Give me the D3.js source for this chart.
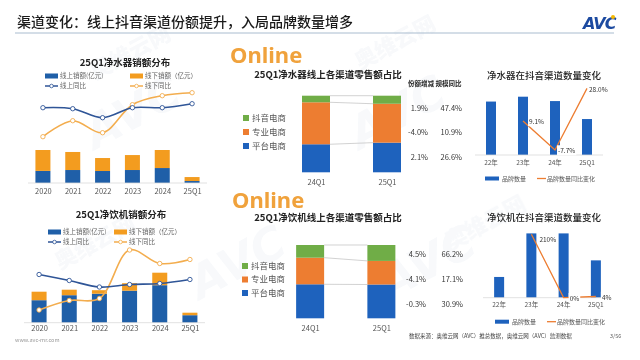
<!DOCTYPE html>
<html><head><meta charset="utf-8">
<script src="https://cdn.jsdelivr.net/npm/d3@7"></script>
<style>
html,body{margin:0;padding:0;background:#fff;}
svg{display:block;font-family:"Noto Sans CJK SC","Noto Sans",sans-serif;}
</style></head><body>
<svg id="c" width="640" height="360"></svg>
<script>
// ---------------- DATA ----------------
const pageTitle = "渠道变化：线上抖音渠道份额提升，入局品牌数量增多";
const years = ["2020","2021","2022","2023","2024","25Q1"];

// 净水器销额 (亿元, estimated) and YoY (%)
const purifierOnline  = [110, 118, 109, 118, 136, 18];
const purifierOffline = [190, 164, 118, 136, 164, 36];
const purifierOnlineYoY  = [10, 9, 0, 10, 10, 14];
const purifierOfflineYoY = [-19, -3, -15, 13, 22, 25];

// 净饮机销额 (estimated) and YoY (%)
const dispenserOnline  = [45, 55, 58, 64, 75, 15];
const dispenserOffline = [17, 11, 7, 15, 25, 5];
const dispenserOnlineYoY  = [51, 39, 26, 31, 33, 41];
const dispenserOfflineYoY = [-20, -1, 3, 100, 73, 81];

// channel shares (%), order: 平台电商, 专业电商, 抖音电商
const channels = ["平台电商","专业电商","抖音电商"];
const periods = ["24Q1","25Q1"];
const purifierShare24 = [36.6, 54.8, 8.6];
const purifierShare25 = [38.7, 50.8, 10.5];
const purifierShareChg = ["2.1%","-4.0%","1.9%"];
const purifierYoY      = ["26.6%","10.9%","47.4%"];
const dispenserShare24 = [46.4, 36.3, 17.3];
const dispenserShare25 = [46.1, 32.2, 21.7];
const dispenserShareChg = ["-0.3%","-4.1%","4.5%"];
const dispenserYoY      = ["30.9%","17.1%","66.2%"];

// brand counts on 抖音 (estimated) and YoY change (%)
const brandYears = ["22年","23年","24年","25Q1"];
const purifierBrands = [220, 240, 222, 148];
const purifierBrandYoY = [null, 9.1, -7.7, 28.0];
const purifierBrandYoYLabels = ["", "9.1%", "-7.7%", "28.0%"];
const dispenserBrands = [10, 31, 31, 18];
const dispenserBrandYoY = [null, 210, 0, 4];
const dispenserBrandYoYLabels = ["", "210%", "0%", "4%"];

// ---------------- STYLE ----------------
const C = {
  blueL:"#1f5fa8", orangeL:"#f39c1f", lineBlue:"#2f5597", lineOrange:"#f3ad4e",
  blue:"#1e62bd", orange:"#ed7d31", green:"#70ad47", grey:"#555", axis:"#d9d9d9"
};
const svg = d3.select("#c");

// watermarks (faint)
const wm = svg.append("g").attr("fill","#1f4e8c").attr("opacity",0.035).attr("font-weight",900);
[[95,80,"奥维云网"],[360,70,"奥维云网"],[450,250,"奥维云网"],[60,270,"奥维云网"]].forEach(d=>{
  wm.append("text").attr("transform",`translate(${d[0]},${d[1]}) rotate(-28)`).attr("font-size",22).text(d[2]);
});
[[95,150],[360,150],[200,300],[390,300]].forEach(d=>{
  wm.append("text").attr("transform",`translate(${d[0]},${d[1]}) rotate(-28)`).attr("font-size",46)
    .attr("font-style","italic").attr("font-family","DejaVu Sans").text("AVC");
});

// header
svg.append("text").attr("x",17).attr("y",27).attr("font-size",14).attr("fill","#1a1a1a")
  .attr("font-weight",500).text(pageTitle);
svg.append("line").attr("x1",15).attr("x2",614).attr("y1",33).attr("y2",33)
  .attr("stroke","#a9bccf").attr("stroke-width",1);
svg.append("text").attr("x",583).attr("y",29).attr("font-size",16).attr("font-weight",900)
  .attr("font-style","italic").attr("fill","#1c4aa0").attr("font-family","DejaVu Sans")
  .attr("letter-spacing",-1).text("AVC");
svg.append("circle").attr("cx",613).attr("cy",17).attr("r",2).attr("fill","#f5b800");

// ---------------- LEFT: sales distribution ----------------
function salesChart(o){
  const g = svg.append("g");
  g.append("text").attr("x",o.titleX).attr("y",o.titleY).attr("text-anchor","middle")
    .attr("font-size",9.5).attr("font-weight",700).attr("fill","#222").text(o.title);
  // legend
  const lg = g.append("g").attr("font-size",6.5).attr("fill","#666");
  lg.append("rect").attr("x",o.lx1).attr("y",o.ly-2.5).attr("width",13).attr("height",5).attr("fill",C.blueL);
  lg.append("text").attr("x",o.lx1+15).attr("y",o.ly).attr("dy","0.35em").text("线上销额(亿元)");
  lg.append("rect").attr("x",o.lx2).attr("y",o.ly-2.5).attr("width",13).attr("height",5).attr("fill",C.orangeL);
  lg.append("text").attr("x",o.lx2+15).attr("y",o.ly).attr("dy","0.35em").text("线下销额（亿元）");
  [[o.lx1,C.lineBlue,"线上同比"],[o.lx2,C.lineOrange,"线下同比"]].forEach(([x,c,t])=>{
    lg.append("line").attr("x1",x).attr("x2",x+13).attr("y1",o.ly+10).attr("y2",o.ly+10).attr("stroke",c).attr("stroke-width",1.5);
    lg.append("circle").attr("cx",x+6.5).attr("cy",o.ly+10).attr("r",1.8).attr("fill","#fff").attr("stroke",c).attr("stroke-width",0.8);
    lg.append("text").attr("x",x+15).attr("y",o.ly+10).attr("dy","0.35em").text(t);
  });
  const x = d3.scalePoint().domain(years).range(o.xRange).padding(0.5);
  const yB = d3.scaleLinear().domain(o.barDomain).range(o.barRange);
  const yL = d3.scaleLinear().domain(o.lineDomain).range(o.lineRange);
  const bw = 15;
  years.forEach((yr,i)=>{
    const on = o.online[i], off = o.offline[i];
    g.append("rect").attr("x",x(yr)-bw/2).attr("width",bw).attr("y",yB(on)).attr("height",yB(0)-yB(on)).attr("fill",C.blueL);
    g.append("rect").attr("x",x(yr)-bw/2).attr("width",bw).attr("y",yB(on+off)).attr("height",yB(on)-yB(on+off)).attr("fill",C.orangeL);
  });
  g.append("line").attr("x1",o.xRange[0]).attr("x2",o.xRange[1]).attr("y1",yB(0)).attr("y2",yB(0))
    .attr("stroke",C.axis).attr("stroke-width",0.8);
  const ax = d3.axisBottom(x).tickSize(0).tickPadding(o.tickPad);
  const axg = g.append("g").attr("transform",`translate(0,${yB(0)})`).call(ax);
  axg.select(".domain").remove();
  axg.selectAll("text").attr("font-size",7.5).attr("fill",C.grey).attr("font-family",'"Noto Sans CJK SC",sans-serif');
  const line = d3.line().x((d,i)=>x(years[i])).y(d=>yL(d)).curve(d3.curveCatmullRom.alpha(0.5));
  [[o.offYoY,C.lineOrange],[o.onYoY,C.lineBlue]].forEach(([arr,c])=>{
    g.append("path").attr("d",line(arr)).attr("fill","none").attr("stroke",c).attr("stroke-width",1.6);
    g.selectAll(null).data(arr).enter().append("circle")
      .attr("cx",(d,i)=>x(years[i])).attr("cy",d=>yL(d)).attr("r",2.2)
      .attr("fill","#fff").attr("stroke",c).attr("stroke-width",0.9);
  });
}
salesChart({title:"25Q1净水器销额分布", titleX:125, titleY:66, ly:76, lx1:45, lx2:130, tickPad:6,
  xRange:[28,207], barDomain:[0,300], barRange:[183,150], lineDomain:[-20,30], lineRange:[137.7,87.7],
  online:purifierOnline, offline:purifierOffline, onYoY:purifierOnlineYoY, offYoY:purifierOfflineYoY});
salesChart({title:"25Q1净饮机销额分布", titleX:121, titleY:218, ly:232, lx1:48, lx2:114, tickPad:3,
  xRange:[24,205], barDomain:[0,100], barRange:[322.7,272.7], lineDomain:[-20,100], lineRange:[310,250],
  online:dispenserOnline, offline:dispenserOffline, onYoY:dispenserOnlineYoY, offYoY:dispenserOfflineYoY});

// ---------------- MIDDLE: channel shares ----------------
function shareChart(o){
  const g = svg.append("g");
  g.append("text").attr("x",o.onlineX).attr("y",o.onlineY).attr("font-size",22).attr("font-weight",700)
    .attr("fill","#f0a23c").attr("font-family",'"Noto Sans","Open Sans",sans-serif').text("Online");
  g.append("text").attr("x",328).attr("y",o.titleY).attr("text-anchor","middle").attr("font-size",9.5)
    .attr("font-weight",700).attr("fill","#222").text(o.title);
  if(o.header){
    g.append("text").attr("x",408).attr("y",o.titleY+8).attr("font-size",6.5).attr("font-weight",700)
      .attr("fill","#222").text(o.header);
  }
  const x = d3.scalePoint().domain(periods).range(o.xRange).padding(0.5);
  const y = d3.scaleLinear().domain([0,100]).range(o.yRange);
  const bw = 28;
  const colors = [C.blue, C.orange, C.green];
  const stacks = [o.s24, o.s25].map(arr=>{ let c=0; return arr.map(v=>{ const s=[c,c+v]; c+=v; return s; }); });
  periods.forEach((p,pi)=>{
    stacks[pi].forEach((s,ci)=>{
      g.append("rect").attr("x",x(p)-bw/2).attr("width",bw).attr("y",y(s[1])).attr("height",y(s[0])-y(s[1])).attr("fill",colors[ci]);
    });
  });
  // series connector lines
  stacks[0].forEach((s,ci)=>{
    g.append("line").attr("x1",x(periods[0])+bw/2).attr("x2",x(periods[1])-bw/2)
      .attr("y1",y(s[1])).attr("y2",y(stacks[1][ci][1])).attr("stroke","#bfbfbf").attr("stroke-width",0.7);
  });
  const ax = d3.axisBottom(x).tickSize(0).tickPadding(7);
  const axg = g.append("g").attr("transform",`translate(0,${y(0)})`).call(ax);
  axg.select(".domain").remove();
  axg.selectAll("text").attr("font-size",7.5).attr("fill",C.grey).attr("font-family",'"Noto Sans CJK SC",sans-serif');
  // legend (top-down: 抖音, 专业, 平台)
  const order = [2,1,0];
  order.forEach((ci,k)=>{
    const yy = o.legY + k*o.legStep;
    g.append("rect").attr("x",o.legX).attr("y",yy-3).attr("width",6).attr("height",6).attr("fill",colors[ci]);
    g.append("text").attr("x",o.legX+9).attr("y",yy).attr("dy","0.35em").attr("font-size",8.5).attr("fill",C.grey).text(channels[ci]);
  });
  // right value labels
  order.forEach((ci,k)=>{
    const yy = o.labY + k*o.labStep;
    g.append("text").attr("x",o.chgX).attr("y",yy).attr("dy","0.35em").attr("text-anchor","end")
      .attr("font-size",7.5).attr("fill","#333").text(o.chg[ci]);
    g.append("text").attr("x",o.yoyX).attr("y",yy).attr("dy","0.35em").attr("text-anchor","end")
      .attr("font-size",7.5).attr("fill","#333").text(o.yoy[ci]);
  });
}
shareChart({title:"25Q1净水器线上各渠道零售额占比", header:"份额增减 规模同比", onlineX:230, onlineY:63, titleY:78,
  xRange:[280.5,422.5], yRange:[172.3,95.7], s24:purifierShare24, s25:purifierShare25,
  legX:243, legY:118, legStep:14, labY:108, labStep:24.5, chgX:428, yoyX:462,
  chg:purifierShareChg, yoy:purifierYoY});
shareChart({title:"25Q1净饮机线上各渠道零售额占比", header:null, onlineX:232, onlineY:208, titleY:221,
  xRange:[274.5,417], yRange:[318.3,245], s24:dispenserShare24, s25:dispenserShare25,
  legX:242, legY:266, legStep:13.5, labY:254, labStep:25, chgX:426, yoyX:463,
  chg:dispenserShareChg, yoy:dispenserYoY});

// ---------------- RIGHT: brand counts on 抖音 ----------------
function brandChart(o){
  const g = svg.append("g");
  g.append("text").attr("x",487).attr("y",o.titleY).attr("font-size",9.5).attr("font-weight",500)
    .attr("fill","#222").text(o.title);
  const x = d3.scaleBand().domain(brandYears).range(o.xRange).padding(0);
  const yB = d3.scaleLinear().domain(o.barDomain).range(o.barRange);
  const yL = d3.scaleLinear().domain(o.lineDomain).range(o.lineRange);
  const bw = 10;
  const cx = d=> x(d)+x.bandwidth()/2;
  g.selectAll(null).data(o.bars).enter().append("rect")
    .attr("x",(d,i)=>cx(brandYears[i])-bw/2).attr("width",bw)
    .attr("y",d=>yB(d)).attr("height",d=>yB(0)-yB(d)).attr("fill",C.blue);
  g.append("line").attr("x1",o.xRange[0]).attr("x2",o.xRange[1]).attr("y1",yB(0)).attr("y2",yB(0))
    .attr("stroke",C.axis).attr("stroke-width",0.8);
  const ax = d3.axisBottom(x).tickSize(0).tickPadding(5);
  const axg = g.append("g").attr("transform",`translate(0,${yB(0)})`).call(ax);
  axg.select(".domain").remove();
  axg.selectAll("text").attr("font-size",6.5).attr("fill",C.grey).attr("font-family",'"Noto Sans CJK SC",sans-serif');
  const line = d3.line().defined(d=>d!=null).x((d,i)=>cx(brandYears[i])).y(d=>yL(d));
  g.append("path").attr("d",line(o.yoy)).attr("fill","none").attr("stroke",C.orange).attr("stroke-width",1.3);
  o.yoy.forEach((v,i)=>{
    if(v==null) return;
    const t = g.append("text").attr("x",cx(brandYears[i])+o.labDx[i]).attr("y",yL(v)+o.labDy[i])
      .attr("dy","0.35em").attr("font-size",6.5).attr("fill","#333").text(o.labels[i]);
    const bb = t.node().getBBox();
    g.insert("rect", () => t.node()).attr("x",bb.x-1).attr("y",bb.y).attr("width",bb.width+2).attr("height",bb.height).attr("fill","#fff");
  });
  // legend
  const ly = o.legY;
  g.append("rect").attr("x",o.legX).attr("y",ly-2).attr("width",14).attr("height",4).attr("fill",C.blue);
  g.append("text").attr("x",o.legX+17).attr("y",ly).attr("dy","0.35em").attr("font-size",6).attr("fill",C.grey).text("品牌数量");
  g.append("line").attr("x1",o.legX+52).attr("x2",o.legX+61).attr("y1",ly).attr("y2",ly).attr("stroke",C.orange).attr("stroke-width",1.3);
  g.append("text").attr("x",o.legX+62).attr("y",ly).attr("dy","0.35em").attr("font-size",6).attr("fill",C.grey).text("品牌数量同比变化");
}
brandChart({title:"净水器在抖音渠道数量变化", titleY:79, xRange:[475,603], bars:purifierBrands,
  barDomain:[0,240], barRange:[155,96.7], yoy:purifierBrandYoY, lineDomain:[-7.7,28], lineRange:[150,88.4],
  labels:purifierBrandYoYLabels, labDx:[0,6,3,2], labDy:[0,1,1,1], legX:485, legY:178.5});
brandChart({title:"净饮机在抖音渠道数量变化", titleY:221, xRange:[483,612], bars:dispenserBrands,
  barDomain:[0,31], barRange:[297.7,233.4], yoy:dispenserBrandYoY, lineDomain:[0,210], lineRange:[297.7,234.3],
  labels:dispenserBrandYoYLabels, labDx:[0,8,6,6], labDy:[0,5,1,1], legX:495, legY:321.7});

// ---------------- FOOTER ----------------
svg.append("text").attr("x",15).attr("y",342).attr("font-size",5.5).attr("fill","#999").text("www.avc-mr.com");
svg.append("text").attr("x",409).attr("y",338).attr("font-size",5.5).attr("fill","#444")
  .text("数据来源：奥维云网（AVC）推总数据，奥维云网（AVC）监测数据");
svg.append("text").attr("x",610).attr("y",338).attr("font-size",5.5).attr("fill","#666").text("3/56");
</script>
</body></html>
